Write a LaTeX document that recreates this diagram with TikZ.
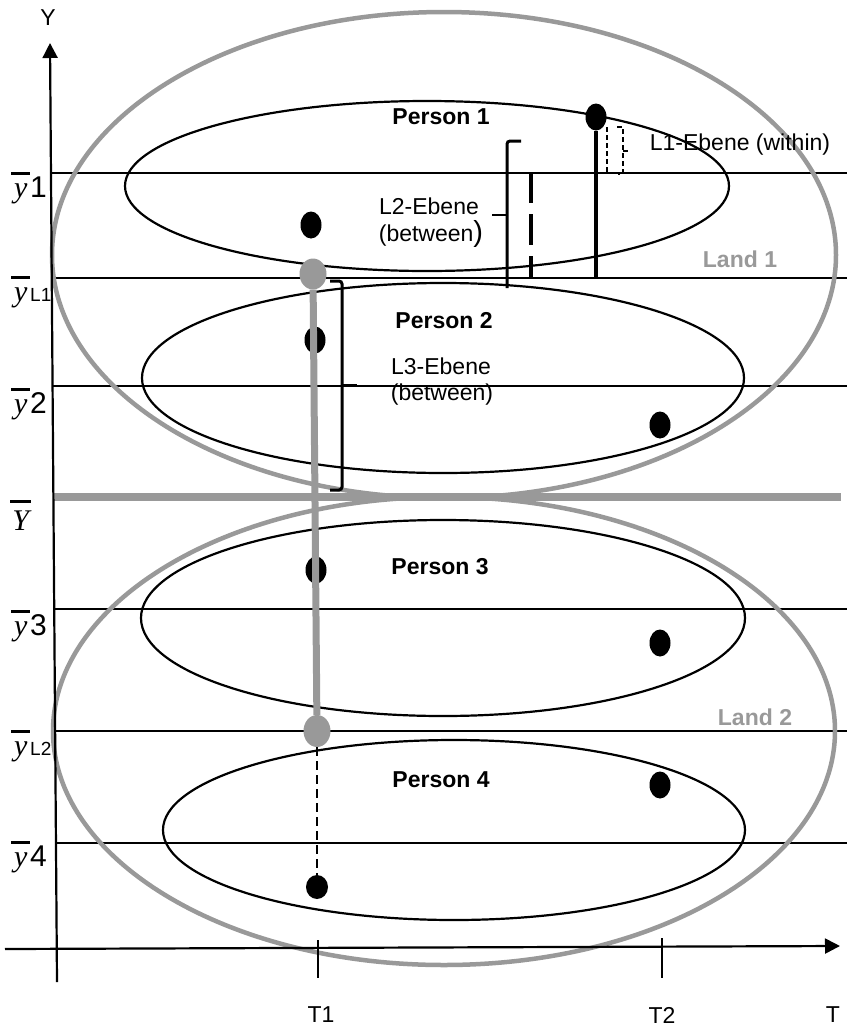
\documentclass[tikz,border=0pt]{standalone}
\usepackage{fontspec}
\setmainfont{Liberation Sans}
\newfontfamily\serifit{Liberation Serif}
\usetikzlibrary{shapes.geometric,arrows.meta}
\definecolor{landgray}{RGB}{153,153,153}
% barred italic letter: #1 letter, #2 bar height above baseline, #3 box width
\newcommand{\barlet}[3]{\rlap{\raisebox{#2}{\rule{#3}{2.6pt}}}\makebox[#3][c]{\serifit\itshape #1}}
\begin{document}
\begin{tikzpicture}[x=1pt,y=-1pt,
  hline/.style={line width=1.8pt},
  pell/.style={line width=2.2pt},
  land/.style={line width=4.5pt, draw=landgray},
  dot/.style={ellipse, fill=black, inner sep=0pt, minimum width=21pt, minimum height=27pt},
  gdot/.style={ellipse, fill=landgray, inner sep=0pt, minimum width=27pt, minimum height=31pt},
  txt/.style={font=\fontsize{23}{27}\selectfont, inner sep=0pt},
  ptxt/.style={font=\fontsize{23}{27}\selectfont\bfseries, inner sep=0pt},
  ltxt/.style={font=\fontsize{23}{27}\selectfont\bfseries, text=landgray, inner sep=0pt},
  ylab/.style={font=\fontsize{30}{34}\selectfont, inner sep=0pt, anchor=base west},
  brace/.style={line width=3pt, rounded corners=3pt},
  axis/.style={line width=2.2pt},
]
\useasboundingbox (0,0) rectangle (847,1029);

% horizontal level lines
\draw[hline] (51,173) -- (847,173);
\draw[hline] (51.8,278) -- (847,278);
\draw[hline] (52.6,386) -- (847,386);
\draw[hline] (54.2,609) -- (847,609);
\draw[hline] (55.2,731) -- (847,731);
\draw[hline] (56,843) -- (847,843);

% person ellipses
\draw[pell] (427,186) ellipse [x radius=302pt, y radius=85pt];
\draw[pell] (443,378) ellipse [x radius=301pt, y radius=95pt];
\draw[pell] (443,618) ellipse [x radius=302pt, y radius=98pt];
\draw[pell] (454,830) ellipse [x radius=291pt, y radius=90pt];

% land ellipses
\draw[land] (444,255) ellipse [x radius=392pt, y radius=243pt];
\draw[land] (444,731) ellipse [x radius=391pt, y radius=234pt];

% grand mean
\draw[line width=7.5pt, draw=landgray] (53.4,497) -- (841,497);

% axes
\draw[axis, -{Triangle[length=15pt,width=15pt]}] (57,982) -- (50,43);
\draw[axis, -{Triangle[length=15pt,width=15pt]}] (5,949) -- (840,946);
\draw[axis] (318,940) -- (318,978);
\draw[axis] (662,938) -- (662,978);

% axis labels
\node[txt] (ylabel) at (48,18) {Y};
\node[txt] (t1) at (321,1015) {T1};
\node[txt] (t2) at (662,1015) {T2};
\node[txt] (t) at (833,1015) {T};

\node[ylab] (ly1) at (11,197) {\barlet{y}{22pt}{19pt}1};
\node[ylab] (lyL1) at (11,301) {\barlet{y}{22pt}{19pt}{\fontsize{19}{20}\selectfont L1}};
\node[ylab] (ly2) at (11,413) {\barlet{y}{22pt}{19pt}2};
\node[ylab] (lY) at (10,530) {\barlet{Y}{27.5pt}{21pt}};
\node[ylab] (ly3) at (11,635) {\barlet{y}{22pt}{19pt}3};
\node[ylab] (lyL2) at (11,755) {\barlet{y}{22pt}{19pt}{\fontsize{19}{20}\selectfont L2}};
\node[ylab] (ly4) at (11,866) {\barlet{y}{22pt}{19pt}4};

% person / land labels
\node[ptxt] (p1) at (441,117) {Person 1};
\node[ptxt] (p2) at (444,321) {Person 2};
\node[ptxt] (p3) at (440,567) {Person 3};
\node[ptxt] (p4) at (441,780) {Person 4};
\node[ltxt] (land1) at (740,259) {Land 1};
\node[ltxt] (land2) at (755,717) {Land 2};

% level labels
\node[txt] (l1) at (740,145) {L1-Ebene (within)};
\node[txt] (l2a) at (429,206) {L2-Ebene};
\node[txt] (l2b) at (431,234) {(between{\fontsize{29}{29}\selectfont )}};
\node[txt] (l3a) at (441,366) {L3-Ebene};
\node[txt] (l3b) at (442,395) {(between)};

% L2 brace and L2 dashed deviation
\draw[brace] (521,141) -- (507,141) -- (507,288);
\draw[line width=2.5pt] (507,215) -- (492,215);
\coordinate (l2top) at (531,172);
\coordinate (l2bot) at (531,278);
\draw[line width=4.5pt, dash pattern=on 31pt off 11pt] (l2top) -- (l2bot);

% L3 brace
\draw[brace] (330,281) -- (342,281) -- (342,490) -- (330,490);
\draw[line width=2.5pt] (342,385) -- (357,385);

% dots
\node[dot] (d1) at (596,117) {};
\node[dot] (d2) at (311,225) {};
\node[dot] (d3) at (315,340) {};
\node[dot] (d4) at (660,425) {};
\node[dot] (d5) at (316,570) {};
\node[dot] (d6) at (660,643) {};
\node[dot] (d7) at (660,785) {};
\node[dot, minimum width=22pt, minimum height=24pt] (d8) at (317,887) {};

% L1 deviation
\coordinate (d1foot) at (596,278);
\draw[line width=3.5pt] (d1) -- (d1foot);
\coordinate (l1top) at (607,127);
\coordinate (l1bot) at (607,172);
\draw[line width=1.5pt, dash pattern=on 5pt off 3pt] (l1top) -- (l1bot);
\draw[line width=1.5pt, dash pattern=on 5pt off 3pt] (617,127) -- (623,127) -- (623,174) -- (618,174);
\draw[line width=1.5pt] (623,151) -- (628,151);

% land means
\node[gdot] (g1) at (313,274) {};
\node[gdot, minimum height=32pt] (g2) at (317,731) {};
\draw[line width=7pt, draw=landgray] (g1) -- (g2);
\draw[line width=1.5pt, dash pattern=on 9pt off 5pt] (g2) -- (d8);

\end{tikzpicture}
\end{document}
